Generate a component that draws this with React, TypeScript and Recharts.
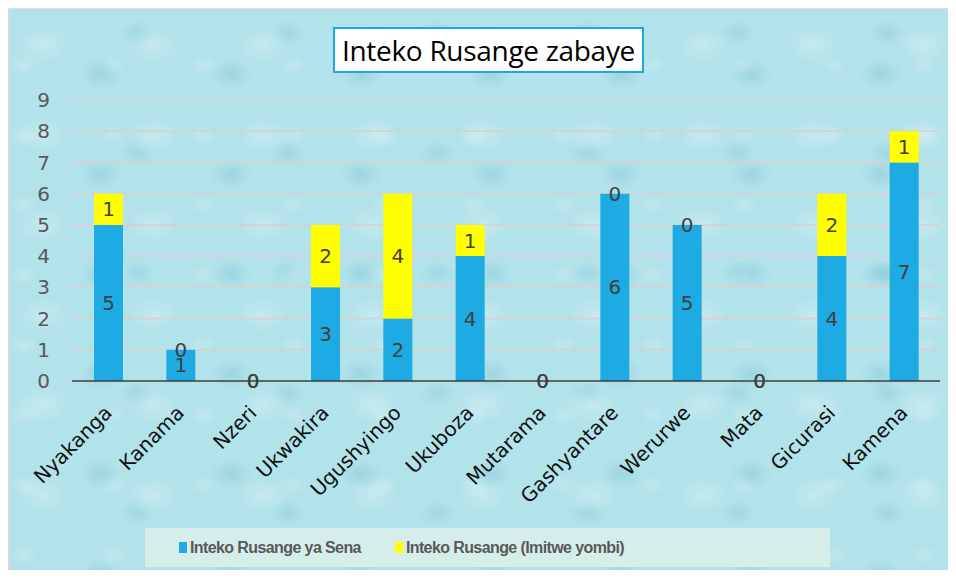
import { BarChart, Bar, XAxis, YAxis, CartesianGrid, LabelList } from "recharts";

// months (Kinyarwanda)
const months = [
  "Nyakanga",
  "Kanama",
  "Nzeri",
  "Ukwakira",
  "Ugushyingo",
  "Ukuboza",
  "Mutarama",
  "Gashyantare",
  "Werurwe",
  "Mata",
  "Gicurasi",
  "Kamena",
];
const sena = [5, 1, 0, 3, 2, 4, 0, 6, 5, 0, 4, 7];
const imitweYombi = [1, 0, 0, 2, 4, 1, 0, 0, 0, 0, 2, 1];
const seriesNames = ["Inteko Rusange ya Sena", "Inteko Rusange (Imitwe yombi)"];
const seriesColors = ["#1eaae2", "#ffff00"];
const yTicks = [0, 1, 2, 3, 4, 5, 6, 7, 8, 9];
const title = "Inteko Rusange zabaye";

const data = months.map((m, i) => ({ month: m, sena: sena[i], yombi: imitweYombi[i] }));

const MonthTick = ({ x, y, payload }: any) => (
  <text
    transform={`translate(${x + 5},${y + 25}) rotate(-45)`}
    textAnchor="end"
    fontSize={20}
    fontFamily="DejaVu Sans"
    fill="#111"
  >
    {payload.value}
  </text>
);

const bg =
  "radial-gradient(ellipse 40px 28px at 30% 40%, rgba(255,255,255,0.25), transparent 70%)," +
  "radial-gradient(ellipse 30px 22px at 70% 65%, rgba(110,185,200,0.3), transparent 70%)," +
  "radial-gradient(ellipse 22px 16px at 15% 80%, rgba(255,255,255,0.2), transparent 70%)," +
  "radial-gradient(ellipse 26px 18px at 85% 20%, rgba(110,185,200,0.25), transparent 70%)," +
  "#b2e2ea";

export default function App() {
  return (
    <div
      style={{
        position: "relative",
        width: 940,
        height: 562,
        borderLeft: "2px solid #d9d9d9",
        borderTop: "1px solid #e0e0e0",
        boxSizing: "border-box",
        background: bg,
        backgroundSize: "110px 90px, 130px 100px, 90px 70px, 150px 120px, auto",
        overflow: "hidden",
      }}
    >
      <BarChart
        width={938}
        height={561}
        data={data}
        margin={{ top: 91, right: 8, bottom: 0, left: 0 }}
        barSize={29}
      >
        <CartesianGrid vertical={false} stroke="#d9cfcf" strokeWidth={1.5} />
        <XAxis
          dataKey="month"
          height={189}
          interval={0}
          tickLine={false}
          axisLine={{ stroke: "#3a3f42", strokeWidth: 1.5 }}
          tick={<MonthTick />}
        />
        <YAxis
          width={62}
          domain={[0, 9]}
          ticks={yTicks}
          interval={0}
          axisLine={false}
          tickLine={false}
          tickMargin={16}
          tick={{ fontSize: 20, fontFamily: "DejaVu Sans", fill: "#595959" }}
        />
        <Bar dataKey="sena" stackId="a" fill={seriesColors[0]} minPointSize={0.01} isAnimationActive={false}>
          <LabelList dataKey="sena" position="center" fontSize={20} fontFamily="DejaVu Sans" fill="#404040" />
        </Bar>
        <Bar dataKey="yombi" stackId="a" fill={seriesColors[1]} minPointSize={0.01} isAnimationActive={false}>
          <LabelList dataKey="yombi" position="center" fontSize={20} fontFamily="DejaVu Sans" fill="#404040" />
        </Bar>
      </BarChart>

      <div
        style={{
          position: "absolute",
          left: 323,
          top: 18,
          width: 311,
          height: 46,
          boxSizing: "border-box",
          background: "#fff",
          border: "2px solid #1ea7e0",
          fontFamily: "Open Sans",
          fontSize: 28,
          letterSpacing: -0.3,
          color: "#000",
          display: "flex",
          alignItems: "center",
          justifyContent: "center",
        }}
      >
        {title}
      </div>

      <div
        style={{
          position: "absolute",
          left: 135,
          top: 519,
          width: 685,
          height: 39,
          background: "#d5eeea",
          display: "flex",
          alignItems: "center",
          fontFamily: "Liberation Sans",
          fontWeight: "bold",
          fontSize: 16,
          letterSpacing: -0.6,
          color: "#595959",
        }}
      >
        {seriesNames.map((name, i) => (
          <div
            key={name}
            style={{ display: "flex", alignItems: "center", marginLeft: 34 }}
          >
            <span
              style={{ display: "inline-block", width: 8, height: 11, background: seriesColors[i], marginRight: 3 }}
            />
            {name}
          </div>
        ))}
      </div>
    </div>
  );
}
